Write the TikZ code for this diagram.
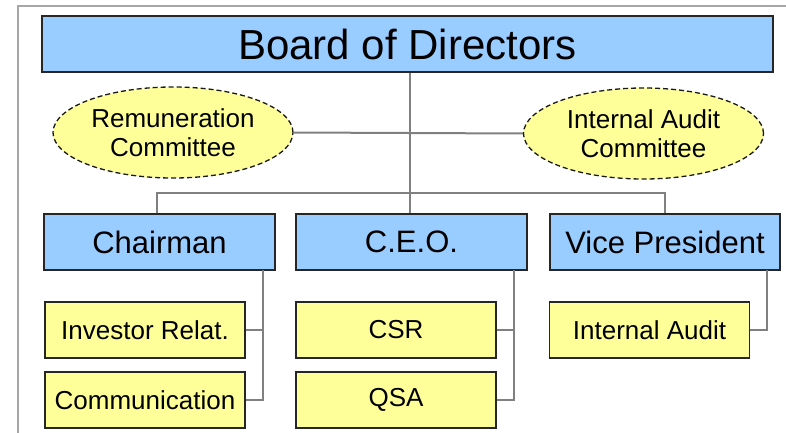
\documentclass[tikz,border=0pt]{standalone}
\usepackage{fontspec}
\setmainfont{Liberation Sans}
\usepackage{xcolor}
\usepackage{tikz}
\usetikzlibrary{shapes.geometric}

\definecolor{boxblue}{HTML}{99CCFF}
\definecolor{boxyellow}{HTML}{FFFF99}
\definecolor{linkgray}{HTML}{808080}

\begin{document}
\begin{tikzpicture}[x=1pt, y=-1pt,
	post/.style={draw=black!85, line width=1.4pt, fill=boxblue, inner sep=0pt, minimum height=56pt},
	unit/.style={draw=black!85, line width=1.4pt, fill=boxyellow, inner sep=0pt, minimum width=200pt, minimum height=56pt, font=\fontsize{26}{30}\selectfont},
	cmte/.style={ellipse, draw=black!90, dash pattern=on 5pt off 3pt, line width=1.3pt, fill=boxyellow, inner sep=0pt, minimum width=240pt, minimum height=91pt, align=center, font=\fontsize{26}{29}\selectfont},
	link/.style={draw=linkgray, line width=2pt}]
\useasboundingbox (0,0) rectangle (786,433);

% frame
\draw[gray!70, line width=1.5pt] (18,433) -- (18,6) -- (786,6);

% top level
\node[post, minimum width=731pt, font=\fontsize{42}{48}\selectfont](board) at (407.5,44) {Board of Directors};
\node[cmte](rem) at (173,132.5) {Remuneration\\Committee};
\node[cmte](iac) at (643.5,133.5) {Internal Audit\\Committee};

% second level
\node[post, minimum width=231pt, font=\fontsize{31}{36}\selectfont](chair) at (159.5,242) {Chairman};
\node[post, minimum width=231pt, font=\fontsize{31}{36}\selectfont](ceo) at (411.5,242) {C.E.O.};
\node[post, minimum width=230pt, font=\fontsize{31}{36}\selectfont](vp) at (665,242) {Vice President};

% departments
\node[unit](ir) at (145,330) {Investor Relat.};
\node[unit](comm) at (145,400) {Communication};
\node[unit](csr) at (396,330) {CSR};
\node[unit](qsa) at (396,400) {QSA};
\node[unit](ia) at (649.5,330) {Internal Audit};

% joints under each post
\coordinate(chairbar) at (263,270);
\coordinate(ceobar) at (514,270);
\coordinate(vpbar) at (767,270);
\coordinate(rowtop) at (157,193);

% links
\path[link] (rem.east) -- (iac.west);
\path[link] (board.south -| 410,0) -- (ceo.north -| 410,0);
\path[link] (chair.north -| rowtop) -- (rowtop) -| (vp.north);
\foreach \a/\b in {ir/chairbar, comm/chairbar, csr/ceobar, qsa/ceobar, ia/vpbar}
	\path[link] (\a.east) -| (\b);
\end{tikzpicture}
\end{document}
